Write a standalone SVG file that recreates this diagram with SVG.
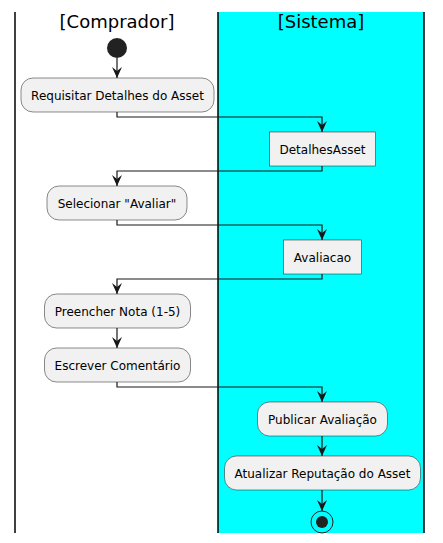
<svg xmlns="http://www.w3.org/2000/svg" width="443" height="543" viewBox="0 0 443 543">
<defs>
<style>
.lane{stroke:#000;stroke-width:1.5;fill:none}
.title{font-family:"DejaVu Sans",sans-serif;font-size:18px;fill:#000;text-anchor:middle}
.act{fill:#F1F1F1;stroke:#181818;stroke-width:0.5}
.lbl{font-family:"DejaVu Sans",sans-serif;font-size:12px;fill:#000;text-anchor:middle}
.edge{stroke:#181818;stroke-width:1.2;fill:none}
</style>
<marker id="arr" markerWidth="13" markerHeight="12" viewBox="-12 -6 13 12" refX="0" refY="0" orient="auto" markerUnits="userSpaceOnUse">
<polygon points="0,0 -11,-5 -7,0 -11,5" fill="#181818"/>
</marker>
</defs>
<rect x="0" y="0" width="443" height="543" fill="#fff"/>
<g id="lanes">
<rect x="218" y="12" width="206" height="521" fill="#00FFFF"/>
<line class="lane" x1="15" y1="12" x2="15" y2="533"/>
<line class="lane" x1="218" y1="12" x2="218" y2="533"/>
<line class="lane" x1="424" y1="12" x2="424" y2="533"/>
<text class="title" x="117" y="28">[Comprador]</text>
<text class="title" x="321" y="28">[Sistema]</text>
</g>
<g id="start"><circle cx="117" cy="48" r="10" fill="#222"/></g>
<g id="n1"><rect class="act" x="21" y="78" width="193" height="34" rx="12"/><text class="lbl" x="117.5" y="99.5">Requisitar Detalhes do Asset</text></g>
<g id="n2"><rect class="act" x="269.5" y="132" width="106" height="34" rx="0"/><text class="lbl" x="322.5" y="153.5">DetalhesAsset</text></g>
<g id="n3"><rect class="act" x="47" y="186" width="140" height="34" rx="12"/><text class="lbl" x="117" y="207.5">Selecionar "Avaliar"</text></g>
<g id="n4"><rect class="act" x="283.5" y="240" width="78" height="34" rx="0"/><text class="lbl" x="322.5" y="261.5">Avaliacao</text></g>
<g id="n5"><rect class="act" x="44.5" y="294" width="146" height="34" rx="12"/><text class="lbl" x="117.5" y="315.5">Preencher Nota (1-5)</text></g>
<g id="n6"><rect class="act" x="44.5" y="348" width="146" height="34" rx="12"/><text class="lbl" x="117.5" y="369.5">Escrever Comentário</text></g>
<g id="n7"><rect class="act" x="257.5" y="402" width="130" height="34" rx="12"/><text class="lbl" x="322.5" y="423.5">Publicar Avaliação</text></g>
<g id="n8"><rect class="act" x="224.5" y="456" width="196" height="34" rx="12"/><text class="lbl" x="322.5" y="477.5">Atualizar Reputação do Asset</text></g>
<g id="end"><circle cx="322" cy="522" r="11" fill="none" stroke="#222" stroke-width="1"/><circle cx="322" cy="522" r="6" fill="#222"/></g>
<g id="connectors">
<path class="edge" d="M117,58 V78" marker-end="url(#arr)"/>
<path class="edge" d="M117,112 V117 H322 V132" marker-end="url(#arr)"/>
<path class="edge" d="M322,166 V171 H117 V186" marker-end="url(#arr)"/>
<path class="edge" d="M117,220 V225 H322 V240" marker-end="url(#arr)"/>
<path class="edge" d="M322,274 V279 H117 V294" marker-end="url(#arr)"/>
<path class="edge" d="M117,328 V348" marker-end="url(#arr)"/>
<path class="edge" d="M117,382 V387 H322 V402" marker-end="url(#arr)"/>
<path class="edge" d="M322,436 V456" marker-end="url(#arr)"/>
<path class="edge" d="M322,490 V511" marker-end="url(#arr)"/>
</g>
</svg>
